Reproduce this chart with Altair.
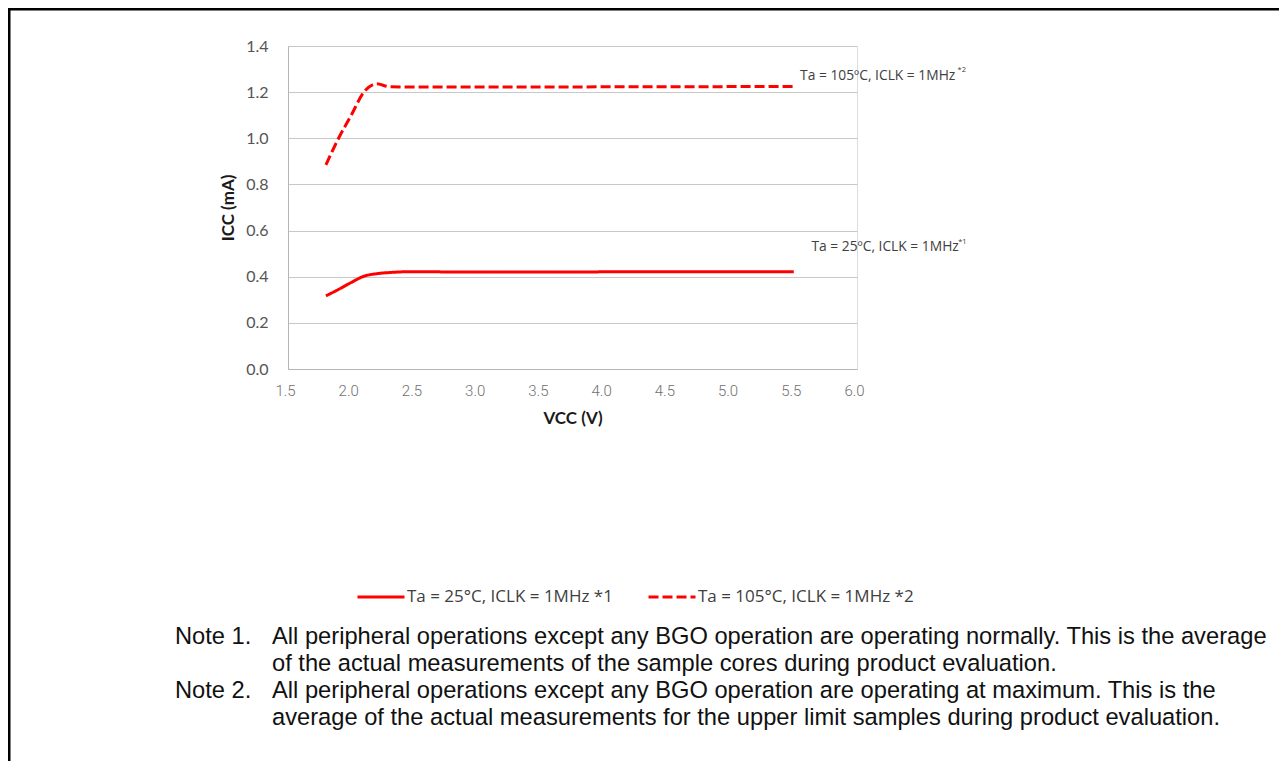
import altair as alt
import pandas as pd

# ---- data ----
vcc_25 = [1.8, 1.9, 2.0, 2.1, 2.2, 2.3, 2.5, 2.7, 3.0, 3.5, 4.0, 4.5, 5.0, 5.5]
icc_25 = [0.317, 0.345, 0.375, 0.402, 0.413, 0.418, 0.422, 0.421, 0.420, 0.420, 0.421, 0.421, 0.421, 0.422]

vcc_105 = [1.8, 1.9, 2.0, 2.1, 2.2, 2.3, 2.5, 3.0, 3.5, 4.0, 4.5, 5.0, 5.5]
icc_105 = [0.885, 1.0, 1.10, 1.20, 1.236, 1.224, 1.222, 1.222, 1.222, 1.223, 1.223, 1.224, 1.225]

series_names = ["Ta = 25°C, ICLK = 1MHz *1", "Ta = 105°C, ICLK = 1MHz *2"]
x_ticks = [1.5, 2.0, 2.5, 3.0, 3.5, 4.0, 4.5, 5.0, 5.5, 6.0]
y_ticks = [0.0, 0.2, 0.4, 0.6, 0.8, 1.0, 1.2, 1.4]

anno_text = ["Ta = 105ºC, ICLK = 1MHz", "Ta = 25ºC, ICLK = 1MHz"]
anno_sup = ["*2", "*1"]
anno_x = [5.55, 5.64]
anno_y = [1.272, 0.527]
sup_x = [6.795, 6.80]
sup_y = [1.295, 0.55]

notes_lines = [
    ("Note 1.", "All peripheral operations except any BGO operation are operating normally. This is the average"),
    ("", "of the actual measurements of the sample cores during product evaluation."),
    ("Note 2.", "All peripheral operations except any BGO operation are operating at maximum. This is the"),
    ("", "average of the actual measurements for the upper limit samples during product evaluation."),
]

df = pd.concat([
    pd.DataFrame({"vcc": vcc_25, "icc": icc_25, "series": series_names[0]}),
    pd.DataFrame({"vcc": vcc_105, "icc": icc_105, "series": series_names[1]}),
])
anno = pd.DataFrame({"text": anno_text, "x": anno_x, "y": anno_y})
sup = pd.DataFrame({"text": anno_sup, "x": sup_x, "y": sup_y})

W, H = 569, 323
PAD = {"left": 280, "top": 38, "right": 422, "bottom": 392}

xscale = alt.Scale(domain=[1.5, 6.0], nice=False, zero=False)
yscale = alt.Scale(domain=[0, 1.4], nice=False)

legend_cfg = dict(
    title=None, orient="none", direction="horizontal",
    legendX=68, legendY=526, symbolType="stroke", symbolSize=2209,
    symbolStrokeWidth=3, labelFont="Open Sans", labelFontSize=17,
    labelColor="#404040", labelOffset=1, columnPadding=29, padding=0, labelLimit=1000)

lines = alt.Chart(df).mark_line(strokeWidth=3, interpolate="monotone").encode(
    x=alt.X("vcc:Q", scale=xscale, axis=alt.Axis(
        title="VCC (V)", values=x_ticks, format=".1f", grid=False, ticks=False,
        labelFont="Roboto", labelFontSize=15, labelFontWeight=300, labelColor="#707070",
        labelPadding=14, labelOffset=-3, labelFlush=False,
        titleFont="Lato", titleFontSize=17, titleFontWeight="bold", titleColor="#1a1a1a",
        titlePadding=12, domainColor="#b5b5b5", domainWidth=1)),
    y=alt.Y("icc:Q", scale=yscale, axis=alt.Axis(
        title="ICC (mA)", values=y_ticks, format=".1f", grid=True, ticks=False,
        gridColor="#c8c8c8", gridWidth=1,
        labelFont="Lato", labelFontSize=16, labelColor="#555555", labelPadding=20,
        titleFont="Lato", titleFontSize=17, titleFontWeight="bold", titleColor="#1a1a1a",
        titlePadding=8, domainColor="#b5b5b5", domainWidth=1)),
    color=alt.Color("series:N", scale=alt.Scale(domain=series_names, range=["#ff0000", "#ff0000"]),
                    legend=alt.Legend(**legend_cfg)),
    strokeDash=alt.StrokeDash("series:N", scale=alt.Scale(domain=series_names, range=[[1, 0], [10, 4]]),
                              legend=alt.Legend(**legend_cfg)),
)

anno_layer = alt.Chart(anno).mark_text(align="left", baseline="middle", font="Open Sans",
                                       fontSize=13.8, color="#404040").encode(
    x=alt.X("x:Q", scale=xscale), y=alt.Y("y:Q", scale=yscale), text="text:N")
sup_layer = alt.Chart(sup).mark_text(align="left", baseline="middle", font="Open Sans",
                                     fontSize=7.5, color="#404040").encode(
    x=alt.X("x:Q", scale=xscale), y=alt.Y("y:Q", scale=yscale), text="text:N")

dummy = alt.Data(values=[{"a": 1}])
note_layers = []
for i, (lead, body) in enumerate(notes_lines):
    yv = 591 + 27 * i
    if lead:
        note_layers.append(alt.Chart(dummy).mark_text(
            text=lead, align="left", baseline="middle", font="Liberation Sans",
            fontSize=23.7, color="#111111").encode(x=alt.value(-113), y=alt.value(yv)))
    note_layers.append(alt.Chart(dummy).mark_text(
        text=body, align="left", baseline="middle", font="Liberation Sans",
        fontSize=23.7, color="#111111").encode(x=alt.value(-16), y=alt.value(yv)))

border_top = alt.Chart(dummy).mark_rule(color="#000000", strokeWidth=3).encode(
    x=alt.value(-280), x2=alt.value(1000), y=alt.value(-37))
border_left = alt.Chart(dummy).mark_rule(color="#000000", strokeWidth=3).encode(
    x=alt.value(-279), y=alt.value(-38), y2=alt.value(740))

chart = alt.layer(lines, anno_layer, sup_layer, *note_layers, border_top, border_left).properties(
    width=W, height=H, autosize=alt.AutoSizeParams(type="none"), padding=PAD
).configure_view(stroke=None).configure(background="white")

chart.save("out.html", embed_options={"renderer": "svg", "actions": False})
